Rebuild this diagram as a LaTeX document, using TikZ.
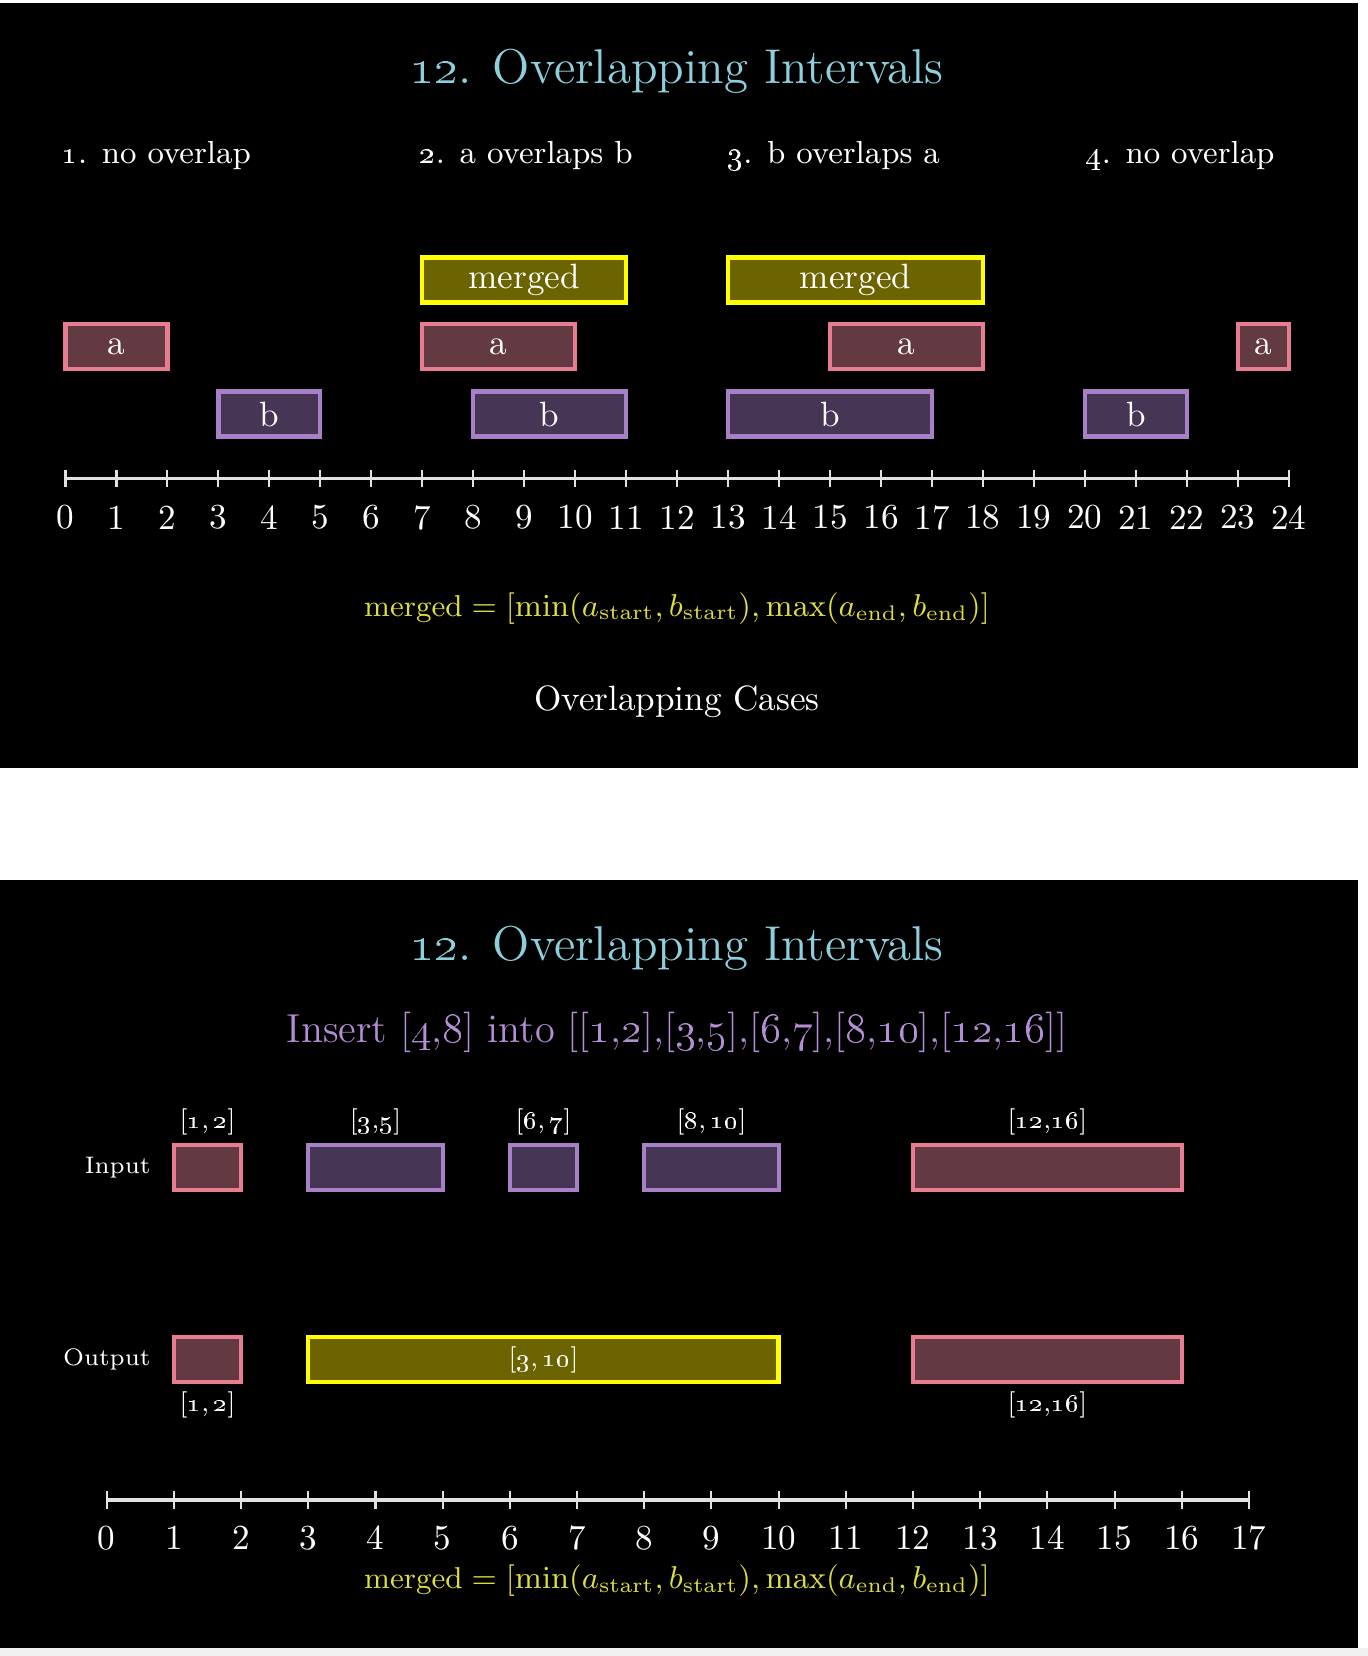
\documentclass[tikz,border=0pt]{standalone}
\usepackage{amsmath}
\usetikzlibrary{positioning}

\definecolor{titleblue}{RGB}{142,207,221}
\definecolor{insertpurple}{RGB}{180,142,212}
\definecolor{formulayellow}{RGB}{222,222,64}
\definecolor{apink}{RGB}{232,124,144}
\definecolor{afill}{RGB}{99,58,66}
\definecolor{bpurple}{RGB}{168,128,200}
\definecolor{bfill}{RGB}{70,53,84}
\definecolor{myellow}{RGB}{255,255,0}
\definecolor{mfill}{RGB}{107,100,0}
\definecolor{axisgray}{RGB}{225,225,225}

\newcommand{\osn}[1]{\oldstylenums{#1}}

\begin{document}
\begin{tikzpicture}
	\tikzstyle{heading}=[text=titleblue, font=\fontsize{13.9}{16}\selectfont]
	\tikzstyle{casetext}=[text=white, font=\fontsize{9.1}{11}\selectfont]
	\tikzstyle{ibox}=[draw, line width=1.2pt, inner sep=0pt, minimum height=0.45cm, text=white, font=\fontsize{10}{12}\selectfont]
	\tikzstyle{abox}=[ibox, draw=apink, fill=afill]
	\tikzstyle{bbox}=[ibox, draw=bpurple, fill=bfill]
	\tikzstyle{mbox}=[ibox, draw=myellow, fill=mfill]
	\tikzstyle{axisline}=[draw=axisgray, line width=0.9pt]
	\tikzstyle{tickline}=[draw=axisgray, line width=0.6pt]
	\tikzstyle{num}=[text=white, font=\fontsize{10}{12}\selectfont]
	\tikzstyle{formula}=[text=formulayellow, font=\fontsize{8.6}{10}\selectfont]
	\tikzstyle{ivlabel}=[text=white, inner sep=1pt, font=\fontsize{7.5}{9}\selectfont]
	\tikzstyle{rowlabel}=[text=white, inner sep=1pt, font=\fontsize{6.8}{8}\selectfont]

	\useasboundingbox (0,0) rectangle (13.68,-16.56);
	\fill[white] (0,0) rectangle (13.68,-16.56);
	\fill[black] (0,-0.03) rectangle (13.575,-7.68);
	\fill[black] (0,-8.80) rectangle (13.575,-16.48);
	\fill[black!6] (0,-16.48) rectangle (13.68,-16.56);

	% overlapping cases
	\node[heading] (title1) at (6.77,-0.718) {\osn{12}. Overlapping Intervals};
	\node[casetext] (case1) at (1.563,-1.553) {\osn{1}. no overlap};
	\node[casetext] (case2) at (5.261,-1.553) {\osn{2}. a overlaps b};
	\node[casetext] (case3) at (8.335,-1.553) {\osn{3}. b overlaps a};
	\node[casetext] (case4) at (11.80,-1.553) {\osn{4}. no overlap};

	\begin{scope}[xshift=0.655cm, x=0.5097cm]
		\draw[axisline] (0,-4.785) -- (24,-4.785);
		\foreach \i in {0,...,24} {
			\draw[tickline] (\i,-4.70) -- (\i,-4.87);
			\node[num] (ta\i) at (\i,-5.176) {\i};
		}
		\foreach \nm/\st/\en in {m2/7/11, m3/13/18}
			\node[mbox, minimum width={(\en-\st)*0.5097cm}] (\nm) at ({(\st+\en)/2},-2.80) {merged};
		\foreach \nm/\st/\en in {a1/0/2, a2/7/10, a3/15/18, a4/23/24}
			\node[abox, minimum width={(\en-\st)*0.5097cm}] (\nm) at ({(\st+\en)/2},-3.465) {a};
		\foreach \nm/\st/\en in {b1/3/5, b2/8/11, b3/13/17, b4/20/22}
			\node[bbox, minimum width={(\en-\st)*0.5097cm}] (\nm) at ({(\st+\en)/2},-4.14) {b};
	\end{scope}

	\node[formula] (rule1) at (6.77,-6.085) {$\text{merged} = [\min(a_{\text{start}}, b_{\text{start}}), \max(a_{\text{end}}, b_{\text{end}})]$};
	\node[text=white, font=\fontsize{10}{12}\selectfont] (caption) at (6.77,-7.015) {Overlapping Cases};

	% insert example
	\node[heading] (title2) at (6.77,-9.486) {\osn{12}. Overlapping Intervals};
	\node[text=insertpurple, font=\fontsize{11.5}{14}\selectfont] (insert) at (6.77,-10.32) {Insert [\osn{4},\osn{8}] into [[\osn{1},\osn{2}],[\osn{3},\osn{5}],[\osn{6},\osn{7}],[\osn{8},\osn{10}],[\osn{12},\osn{16}]]};

	\begin{scope}[xshift=1.067cm, x=0.6719cm]
		\draw[axisline] (0,-15.00) -- (17,-15.00);
		\foreach \i in {0,...,17} {
			\draw[tickline] (\i,-14.91) -- (\i,-15.09);
			\node[num] (tb\i) at (\i,-15.38) {\i};
		}
		\node[abox, minimum width=0.6719cm] (in1) at (1.5,-11.673) {};
		\node[bbox, minimum width=1.3438cm] (in2) at (4,-11.673) {};
		\node[bbox, minimum width=0.6719cm] (in3) at (6.5,-11.673) {};
		\node[bbox, minimum width=1.3438cm] (in4) at (9,-11.673) {};
		\node[abox, minimum width=2.6876cm] (in5) at (14,-11.673) {};
		\node[abox, minimum width=0.6719cm] (out1) at (1.5,-13.596) {};
		\node[mbox, minimum width=4.7033cm, font=\fontsize{7.5}{9}\selectfont] (out2) at (6.5,-13.596) {[\osn{3},\,\osn{10}]};
		\node[abox, minimum width=2.6876cm] (out3) at (14,-13.596) {};
	\end{scope}

	\node[ivlabel, above=1pt of in1] (lin1) {[\osn{1},\,\osn{2}]};
	\node[ivlabel, above=1pt of in2] (lin2) {[\osn{3},\osn{5}]};
	\node[ivlabel, above=1pt of in3] (lin3) {[\osn{6},\,\osn{7}]};
	\node[ivlabel, above=1pt of in4] (lin4) {[\osn{8},\,\osn{10}]};
	\node[ivlabel, above=1pt of in5] (lin5) {[\osn{12},\osn{16}]};
	\node[ivlabel, below=1pt of out1] (lout1) {[\osn{1},\,\osn{2}]};
	\node[ivlabel, below=1pt of out3] (lout3) {[\osn{12},\osn{16}]};
	\node[rowlabel, left=0.17cm of in1] (input) {Input};
	\node[rowlabel, left=0.17cm of out1] (output) {Output};

	\node[formula] (rule2) at (6.77,-15.81) {$\text{merged} = [\min(a_{\text{start}}, b_{\text{start}}), \max(a_{\text{end}}, b_{\text{end}})]$};
\end{tikzpicture}
\end{document}
